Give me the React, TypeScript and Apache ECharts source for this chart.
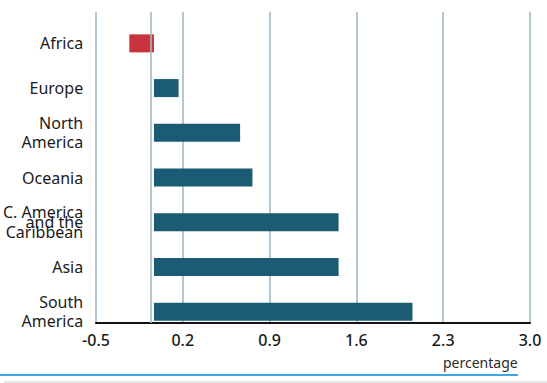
import React, { useEffect, useRef } from "react";
import * as echarts from "echarts";

const regions = [
  "Africa",
  "Europe",
  "North\nAmerica",
  "Oceania",
  "C. America\nand the\nCaribbean",
  "Asia",
  "South\nAmerica",
];
const changes = [-0.2, 0.2, 0.7, 0.8, 1.5, 1.5, 2.1];
const tickMin = -0.5;
const tickMax = 3.0;
const tickStep = 0.7;
const axisTitle = "percentage";

const RED = "#c9333d";
const TEAL = "#1b5b74";
const GRID = "#a3b9c4";

export default function App() {
  const ref = useRef<HTMLDivElement>(null);
  useEffect(() => {
    document.body.style.margin = "0";
    const chart = echarts.init(ref.current!, null, { renderer: "svg" });
    const font = "'Noto Sans', 'Open Sans', sans-serif";
    chart.setOption({
      animation: false,
      backgroundColor: "#ffffff",
      grid: [
        { left: 96, right: 17, top: 12, bottom: 60 },
        { left: 96, right: 17, top: 21, bottom: 49 },
      ],
      xAxis: [
        {
          type: "value",
          gridIndex: 0,
          min: tickMin,
          max: tickMax,
          interval: tickStep,
          axisLine: { show: true, lineStyle: { color: "#111", width: 2 } },
          axisTick: { show: false },
          splitLine: { show: true, lineStyle: { color: GRID, width: 1.6 } },
          axisLabel: {
            formatter: (v: number) => v.toFixed(1),
            fontFamily: font,
            fontSize: 16,
            fontWeight: 500,
            color: "#1a1a1a",
            margin: 9,
          },
        },
        {
          type: "value",
          gridIndex: 1,
          min: -0.445,
          max: 3.055,
          show: false,
          splitLine: { show: false },
        },
        {
          type: "value",
          gridIndex: 0,
          min: -0.445,
          max: 3.055,
          show: false,
          splitLine: { show: false },
        },
      ],
      yAxis: [
        {
          type: "category",
          gridIndex: 0,
          data: ["x"],
          axisLine: { show: false },
          axisTick: { show: false },
          axisLabel: { show: false },
          splitLine: { show: false },
        },
        {
          type: "category",
          gridIndex: 1,
          inverse: true,
          data: regions,
          axisLine: { show: false },
          axisTick: { show: false },
          axisLabel: {
            fontFamily: font,
            fontSize: 16,
            color: "#1a1a1a",
            margin: 16,
            align: "right",
            lineHeight: 19,
            formatter: (v: string) =>
              v.indexOf("Caribbean") >= 0
                ? v
                    .split("\n")
                    .map((s) => "{c|" + s + "}")
                    .join("\n")
                : v,
            rich: {
              c: {
                fontFamily: font,
                fontSize: 16,
                color: "#1a1a1a",
                lineHeight: 10,
                align: "right",
              },
            },
          },
        },
      ],
      series: [
        {
          type: "bar",
          xAxisIndex: 1,
          yAxisIndex: 1,
          barWidth: 18,
          data: changes.map((v) => ({
            value: v,
            itemStyle: { color: v < 0 ? RED : TEAL },
          })),
        },
        {
          type: "scatter",
          xAxisIndex: 2,
          yAxisIndex: 0,
          data: [],
          markLine: {
            symbol: "none",
            silent: true,
            label: { show: false },
            lineStyle: { color: GRID, width: 1.6, type: "solid" },
            data: [{ xAxis: 0 }],
          },
        },
      ],
      graphic: [
        {
          type: "text",
          left: 443,
          top: 355,
          style: {
            text: axisTitle,
            fontFamily: font,
            fontSize: 14,
            fill: "#2a2a2a",
          },
        },
        {
          type: "line",
          shape: { x1: 0, y1: 375, x2: 518, y2: 375 },
          style: { stroke: "#3fa7df", lineWidth: 2 },
        },
        {
          type: "line",
          shape: { x1: 4, y1: 382, x2: 547, y2: 382 },
          style: { stroke: "#cfcfcf", lineWidth: 1 },
        },
      ],
    });
    return () => chart.dispose();
  }, []);
  return <div ref={ref} style={{ width: 547, height: 383 }} />;
}
